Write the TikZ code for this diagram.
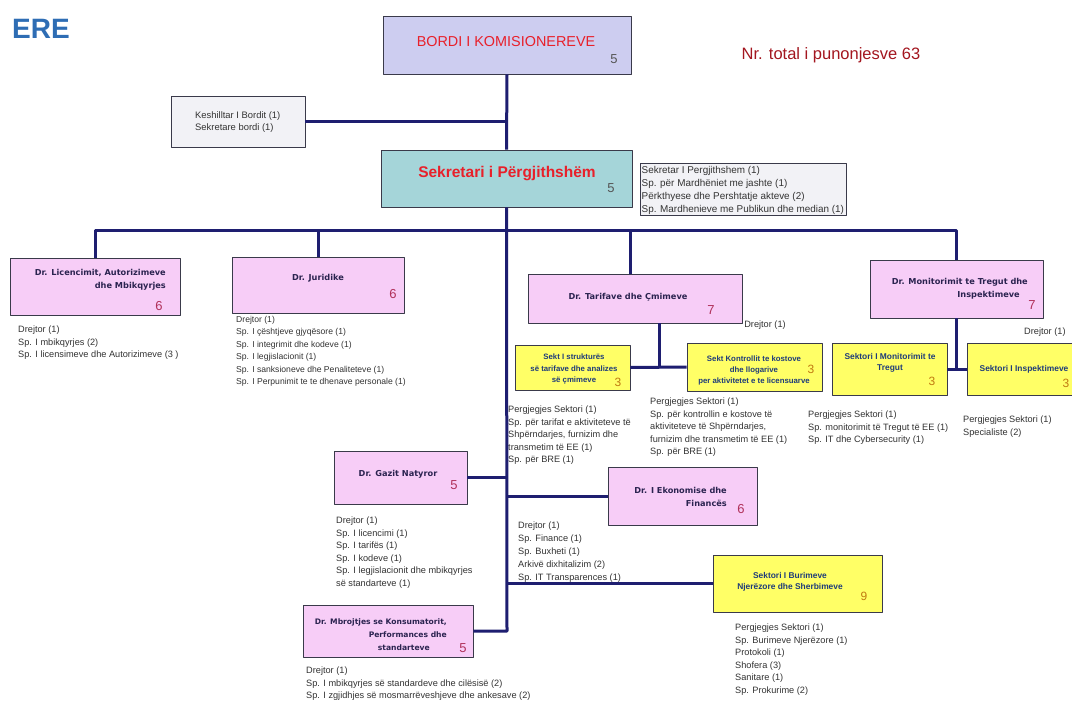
\documentclass[tikz,border=0pt]{standalone}
\usepackage{fontspec}
\setmainfont{Liberation Sans}
\newfontfamily\titlefont{DejaVu Sans}
\usetikzlibrary{calc}

\definecolor{logoc}{HTML}{2E6DB4}
\definecolor{totalc}{HTML}{A3161F}
\definecolor{redc}{HTML}{E8202A}
\definecolor{bordc}{HTML}{CDCDF0}
\definecolor{tealc}{HTML}{A5D5D9}
\definecolor{notec}{HTML}{F2F2F6}
\definecolor{pinkc}{HTML}{F7CDF7}
\definecolor{yellc}{HTML}{FFFF66}
\definecolor{edgec}{HTML}{3A3A4A}
\definecolor{titlec}{HTML}{2B2350}
\definecolor{drnumc}{HTML}{B0305A}
\definecolor{sektc}{HTML}{1F3C7A}
\definecolor{sektnumc}{HTML}{C07A10}
\definecolor{staffc}{HTML}{333333}
\definecolor{greyc}{HTML}{555555}
\definecolor{linkc}{HTML}{1E1E70}

\tikzset{
  conn/.style={draw=linkc, line width=3pt},
  unitbox/.style={draw=edgec, line width=0.8pt, inner sep=0pt},
  drbox/.style={unitbox, fill=pinkc},
  sektbox/.style={unitbox, fill=yellc},
  notebox/.style={unitbox, fill=notec},
  drtitle/.style={font=\titlefont\bfseries\fontsize{8.2}{13}\selectfont, text=titlec, inner sep=0pt},
  sekttitle/.style={font=\bfseries\fontsize{8.4}{11}\selectfont, text=sektc, align=center, inner sep=0pt},
  drnum/.style={font=\fontsize{13}{13}\selectfont, text=drnumc, inner sep=0pt},
  sektnum/.style={font=\fontsize{12}{12}\selectfont, text=sektnumc, inner sep=0pt},
  staff/.style={font=\fontsize{9.2}{12.5}\selectfont, text=staffc, align=left, anchor=north west, inner sep=0pt},
}

\begin{document}
\begin{tikzpicture}[x=1pt, y=-1pt, line join=round]
  % Page frame (1 unit = 1 pixel of the chart, y grows downwards)
  \useasboundingbox (0,0) rectangle (1072,702);
  \fill[white] (0,0) rectangle (1072,702);

  % Logo and staff total
  \node[font=\bfseries\fontsize{28}{28}\selectfont, text=logoc] (logo) at (41,29) {ERE};
  \node[font=\fontsize{16.5}{16.5}\selectfont, text=totalc] (total) at (831,55) {Nr. total i punonjesve 63};

  % Board
  \node[unitbox, fill=bordc, minimum width=248pt, minimum height=58pt] (bord) at (507,45) {};
  \node[font=\fontsize{14.4}{14.4}\selectfont, text=redc] (bordT) at (506,42) {BORDI I KOMISIONEREVE};
  \node[drnum, text=greyc] (bordN) at (614,59) {5};

  % Board advisers
  \node[notebox, minimum width=134pt, minimum height=51pt] (kesh) at (238,121.5) {};
  \node[staff, anchor=west, font=\fontsize{9.4}{12}\selectfont] (keshT) at (195,122) {Keshilltar I Bordit (1)\\Sekretare bordi (1)};

  % Secretary general and his office
  \node[unitbox, fill=tealc, minimum width=251pt, minimum height=57pt] (sek) at (506.5,178.5) {};
  \node[font=\bfseries\fontsize{15.5}{15.5}\selectfont, text=redc] (sekT) at (507,174) {Sekretari i Përgjithshëm};
  \node[drnum, text=greyc] (sekN) at (611,188) {5};
  \node[notebox, minimum width=206pt, minimum height=52pt] (sekS) at (743,189) {};
  \node[staff, anchor=west, font=\fontsize{9.9}{13}\selectfont] (sekST) at (641.5,190) {Sekretar I Pergjithshem (1)\\Sp. për Mardhëniet me jashte (1)\\Përkthyese  dhe Pershtatje akteve (2)\\Sp. Mardhenieve me Publikun dhe median (1)};

  % Directorates on the upper bus
  \node[drbox, minimum width=170pt, minimum height=57pt] (lic) at (95,286.5) {};
  \node[drtitle, align=right, anchor=east] (licT) at (166,280) {Dr. Licencimit, Autorizimeve\\dhe Mbikqyrjes};
  \node[drnum] (licN) at (159,306) {6};
  \node[staff] (licS) at (18,326) {Drejtor (1)\\Sp. I mbikqyrjes (2)\\Sp. I licensimeve dhe Autorizimeve (3 )};

  \node[drbox, minimum width=172pt, minimum height=56pt] (jur) at (318,285) {};
  \node[drtitle] (jurT) at (318,278) {Dr. Juridike};
  \node[drnum] (jurN) at (393,294) {6};
  \node[staff, font=\fontsize{8.6}{12.5}\selectfont] (jurS) at (236,316) {Drejtor (1)\\Sp. I çështjeve gjyqësore (1)\\Sp. I integrimit dhe kodeve (1)\\Sp. I legjislacionit (1)\\Sp. I sanksioneve dhe Penaliteteve (1)\\Sp. I Perpunimit te te dhenave personale (1)};

  \node[drbox, minimum width=214pt, minimum height=49pt] (taf) at (635,298.5) {};
  \node[drtitle] (tafT) at (628,297) {Dr. Tarifave dhe Çmimeve};
  \node[drnum] (tafN) at (711,310) {7};
  \node[staff, anchor=center] (tafD) at (765,325) {Drejtor (1)};

  \node[sektbox, minimum width=115pt, minimum height=45pt] (sekI) at (572.5,367.5) {};
  \node[sekttitle, font=\bfseries\fontsize{7.8}{11.5}\selectfont] (sekIT) at (574,369) {Sekt I strukturës\\së tarifave dhe analizes\\së çmimeve};
  \node[sektnum] (sekIN) at (618,382) {3};
  \node[staff] (sekIS) at (508,406) {Pergjegjes Sektori (1)\\Sp. për tarifat e aktiviteteve të\\Shpërndarjes, furnizim dhe\\transmetim të EE (1)\\Sp. për BRE (1)};

  \node[sektbox, minimum width=135pt, minimum height=48pt] (sekK) at (754.5,367) {};
  \node[sekttitle, font=\bfseries\fontsize{7.8}{11}\selectfont] (sekKT) at (754,370) {Sekt Kontrollit te kostove\\dhe llogarive\\per aktivitetet e te licensuarve};
  \node[sektnum] (sekKN) at (811,369) {3};
  \node[staff] (sekKS) at (650,398) {Pergjegjes Sektori (1)\\Sp. për kontrollin e kostove të\\aktiviteteve të Shpërndarjes,\\furnizim dhe transmetim të EE (1)\\Sp. për BRE (1)};

  \node[drbox, minimum width=173pt, minimum height=58pt] (mon) at (956.5,289) {};
  \node[drtitle, align=right, anchor=east] (monT) at (1028,289) {Dr. Monitorimit te Tregut dhe\\Inspektimeve\hspace*{8pt}};
  \node[drnum] (monN) at (1032,305) {7};
  \node[staff, anchor=west] (monD) at (1024,332) {Drejtor (1)};

  \node[sektbox, minimum width=115pt, minimum height=52pt] (smon) at (889.5,369) {};
  \node[sekttitle] (smonT) at (890,363) {Sektori I Monitorimit te\\Tregut};
  \node[sektnum] (smonN) at (932,381) {3};
  \node[staff] (smonS) at (808,411) {Pergjegjes Sektori (1)\\Sp. monitorimit të Tregut të EE (1)\\Sp. IT dhe Cybersecurity  (1)};

  \node[sektbox, minimum width=123pt, minimum height=52pt] (sins) at (1028.5,369) {};
  \node[sekttitle] (sinsT) at (1024,369) {Sektori I Inspektimeve};
  \node[sektnum] (sinsN) at (1066,383) {3};
  \node[staff] (sinsS) at (963,416) {Pergjegjes Sektori (1)\\Specialiste (2)};

  % Directorates on the main trunk
  \node[drbox, minimum width=133pt, minimum height=53pt] (gaz) at (400.5,477.5) {};
  \node[drtitle] (gazT) at (398,474) {Dr. Gazit Natyror};
  \node[drnum] (gazN) at (454,485) {5};
  \node[staff] (gazS) at (336,517) {Drejtor (1)\\Sp. I licencimi (1)\\Sp. I tarifës (1)\\Sp. I  kodeve (1)\\Sp. I legjislacionit dhe mbikqyrjes\\së standarteve (1)};

  \node[drbox, minimum width=149pt, minimum height=58pt] (eko) at (682.5,496) {};
  \node[drtitle, align=right, anchor=east] (ekoT) at (727,497) {Dr. I Ekonomise dhe\\Financës};
  \node[drnum] (ekoN) at (741,509) {6};
  \node[staff, font=\fontsize{9.2}{13}\selectfont] (ekoS) at (518,522) {Drejtor (1)\\Sp. Finance (1)\\Sp. Buxheti (1)\\Arkivë dixhitalizim (2)\\Sp. IT Transparences (1)};

  \node[sektbox, minimum width=169pt, minimum height=57pt] (bur) at (797.5,583.5) {};
  \node[sekttitle] (burT) at (790,582) {Sektori I Burimeve\\Njerëzore dhe Sherbimeve};
  \node[sektnum] (burN) at (864,596) {9};
  \node[staff] (burS) at (735,624) {Pergjegjes Sektori (1)\\Sp. Burimeve Njerëzore (1)\\Protokoli (1)\\Shofera (3)\\Sanitare (1)\\Sp. Prokurime (2)};

  \node[drbox, minimum width=170pt, minimum height=52pt] (mbr) at (388,631) {};
  \node[drtitle, align=right, anchor=east, font=\titlefont\bfseries\fontsize{7.6}{13}\selectfont] (mbrT) at (447,635) {Dr. Mbrojtjes se Konsumatorit,\\Performances dhe\\standarteve\hspace*{17pt}};
  \node[drnum] (mbrN) at (463,648) {5};
  \node[staff] (mbrS) at (306,667) {Drejtor (1)\\Sp. I mbikqyrjes së standardeve dhe cilësisë (2)\\Sp. I zgjidhjes së mosmarrëveshjeve dhe ankesave (2)};

  % Connector end points
  \coordinate (busL) at (95,230);
  \coordinate (busR) at (956.5,230);
  \coordinate (busJ) at (318,230);
  \coordinate (busT) at (630,230);
  \coordinate (mainB) at (507,631);
  \coordinate (tafJ) at (659,367);

  % Trunk and bus
  \draw[conn] (bord.south) -- (sek.north);
  \draw[conn] (kesh.east) -- (kesh.east -| bord.south);
  \draw[conn] (sek.south) -- (mainB) -- (mbr.east);
  \draw[conn] (lic.north) -- (busL) -- (busR) -- (mon.north);
  \draw[conn] (busJ) -- (jur.north);
  \draw[conn] (busT) -- (busT |- taf.north);

  % Sectors under the directorates
  \draw[conn] (tafJ |- taf.south) -- (tafJ);
  \draw[conn] (sekI.east) -- (sekK.west);
  \draw[conn] (mon.south) -- (mon.south |- smon.east);
  \draw[conn] (smon.east) -- (sins.west);

  % Branches off the trunk
  \draw[conn] (gaz.east) -- (gaz.east -| mainB);
  \draw[conn] (eko.west -| mainB) -- (eko.west);
  \draw[conn] (bur.west -| mainB) -- (bur.west);
\end{tikzpicture}
\end{document}
